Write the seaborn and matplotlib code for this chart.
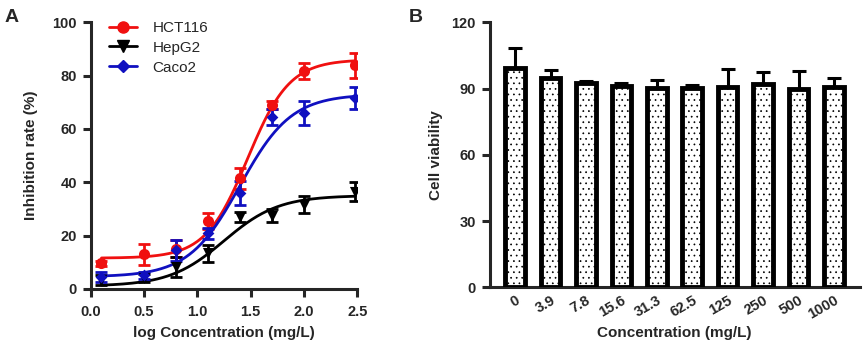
import numpy as np
import pandas as pd
import matplotlib
matplotlib.use('Agg')
import matplotlib.pyplot as plt
import seaborn as sns

# panel A: dose response points (log mg/L) and fit parameters
log_conc = [0.1, 0.5, 0.8, 1.1, 1.4, 1.7, 2.0, 2.48]
hct116 = [9.5, 12.9, 15.1, 25.4, 41.4, 69.0, 81.9, 83.8]
hct116_err = [1.0, 3.8, 3.2, 3.0, 4.0, 1.5, 3.0, 4.8]
hepg2 = [3.3, 3.9, 8.3, 13.3, 27.0, 27.5, 31.6, 36.4]
hepg2_err = [2.0, 1.5, 3.8, 3.3, 2.0, 2.6, 3.3, 3.6]
caco2 = [4.5, 5.0, 14.5, 20.8, 35.8, 64.6, 66.0, 71.5]
caco2_err = [1.8, 1.2, 4.0, 2.0, 4.5, 3.0, 4.5, 4.2]

# 4PL fit: bottom, top, logEC50, hill slope
fit_hct116 = (11.5, 86.0, 1.47, 2.2)
fit_hepg2 = (1.0, 35.0, 1.25, 1.7)
fit_caco2 = (4.5, 73.0, 1.40, 1.8)

# panel B: viability bars
conc_labels = ['0', '3.9', '7.8', '15.6', '31.3', '62.5', '125', '250', '500', '1000']
viability = [99.5, 95.0, 92.5, 91.0, 90.3, 90.2, 90.5, 92.0, 90.0, 90.5]
viability_err = [9.0, 3.5, 1.0, 1.5, 3.5, 1.5, 8.5, 5.5, 8.0, 4.5]

sns.set_style('ticks')
plt.rcParams['font.family'] = ['Liberation Sans', 'DejaVu Sans']
plt.rcParams['hatch.color'] = '#555555'
plt.rcParams['hatch.linewidth'] = 0.5

fig = plt.figure(figsize=(8.65, 3.43), dpi=100)
ax1 = fig.add_axes([0.105, 0.158, 0.308, 0.777])
ax2 = fig.add_axes([0.566, 0.162, 0.428, 0.773])


def four_pl(x, p):
    bottom, top, ec50, hill = p
    return bottom + (top - bottom) / (1 + 10 ** ((ec50 - x) * hill))


series = [
    ('HCT116', hct116, hct116_err, fit_hct116, '#f01010', 'o', 8),
    ('HepG2', hepg2, hepg2_err, fit_hepg2, 'black', 'v', 8),
    ('Caco2', caco2, caco2_err, fit_caco2, '#1010c0', 'D', 6),
]
xs = np.linspace(log_conc[0], log_conc[-1], 200)
for name, vals, errs, fit, color, marker, ms in series:
    curve = pd.DataFrame({'x': xs, 'y': four_pl(xs, fit)})
    sns.lineplot(data=curve, x='x', y='y', ax=ax1, color=color, lw=2)
    ax1.errorbar(log_conc, vals, yerr=errs, fmt='none', ecolor=color,
                 elinewidth=2, capsize=4, capthick=2)
    sns.scatterplot(x=log_conc, y=vals, ax=ax1, color=color, marker=marker,
                    s=ms ** 2, edgecolor=color, linewidth=0, zorder=5)
    ax1.plot([], [], color=color, lw=2, marker=marker, ms=ms, label=name)

ax1.set_xlim(0, 2.5)
ax1.set_ylim(0, 100)
ax1.set_xticks([0.0, 0.5, 1.0, 1.5, 2.0, 2.5])
ax1.set_xticklabels(['0.0', '0.5', '1.0', '1.5', '2.0', '2.5'])
ax1.set_yticks([0, 20, 40, 60, 80, 100])
ax1.set_xlabel('log Concentration (mg/L)', fontsize=11, fontweight='bold')
ax1.set_ylabel('Inhibition rate (%)', fontsize=11, fontweight='bold')
ax1.xaxis.set_label_coords(0.5, -0.14)
ax1.yaxis.set_label_coords(-0.2, 0.5)
ax1.legend(loc='upper left', frameon=False, prop={'size': 11}, handlelength=1.8,
           bbox_to_anchor=(0.07, 1.005), borderpad=0, borderaxespad=0,
           handletextpad=1.0, labelspacing=0.38)

df_bar = pd.DataFrame({'conc': conc_labels, 'viability': viability})
sns.barplot(data=df_bar, x='conc', y='viability', ax=ax2, color='white',
            width=0.55, edgecolor='black', linewidth=3.5, errorbar=None, zorder=3)
for p in ax2.patches:
    p.set_hatch('...')
ax2.errorbar(range(len(conc_labels)), viability,
             yerr=[np.zeros(len(viability_err)), viability_err], fmt='none',
             ecolor='black', elinewidth=2.2, capsize=5, capthick=2.2, zorder=2)
ax2.set_xlim(-0.72, 9.73)
ax2.set_ylim(0, 120)
ax2.set_yticks([0, 30, 60, 90, 120])
ax2.set_xticks(range(len(conc_labels)))
ax2.set_xticklabels(conc_labels, rotation=30, ha='right', va='top',
                    rotation_mode='anchor')
ax2.set_xlabel('Concentration (mg/L)', fontsize=11, fontweight='bold')
ax2.set_ylabel('Cell viability', fontsize=11, fontweight='bold')
ax2.xaxis.set_label_coords(0.5, -0.145)
ax2.yaxis.set_label_coords(-0.127, 0.5)

for ax in (ax1, ax2):
    sns.despine(ax=ax)
    for s in ('left', 'bottom'):
        ax.spines[s].set_linewidth(2.2)
    ax.tick_params(width=2.2, length=6, labelsize=10.5, pad=4)
    for lab in ax.get_xticklabels() + ax.get_yticklabels():
        lab.set_fontweight('bold')
ax1.tick_params(axis='x', pad=6)
ax2.tick_params(axis='x', length=0, pad=4)

fig.text(0.005, 0.975, 'A', fontsize=14, fontweight='bold', va='top')
fig.text(0.472, 0.975, 'B', fontsize=14, fontweight='bold', va='top')

fig.savefig('out.png', dpi=100)
